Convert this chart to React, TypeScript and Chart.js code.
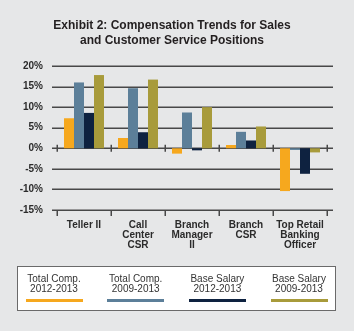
import React, { useEffect, useRef } from "react";
import { Chart, registerables } from "chart.js";

Chart.register(...registerables);

const titleLines = ["Exhibit 2: Compensation Trends for Sales", "and Customer Service Positions"];
const categories = [["Teller II"], ["Call", "Center", "CSR"], ["Branch", "Manager", "II"], ["Branch", "CSR"], ["Top Retail", "Banking", "Officer"]];
const seriesNames = [["Total Comp.", "2012-2013"], ["Total Comp.", "2009-2013"], ["Base Salary", "2012-2013"], ["Base Salary", "2009-2013"]];
const totalComp1213 = [7.3, 2.5, -1.3, 0.8, -10.4];
const totalComp0913 = [16.0, 14.6, 8.7, 4.0, -0.4];
const baseSalary1213 = [8.6, 3.9, -0.5, 1.9, -6.2];
const baseSalary0913 = [17.8, 16.7, 10.0, 5.3, -1.0];
const seriesColors = ["#f6a81e", "#5c7f99", "#0e2240", "#a89b3b"];
const yTicks = [-15, -10, -5, 0, 5, 10, 15, 20];

const FONT = "'Liberation Sans', Arial, sans-serif";
const LINE = "#484848";

const gridPlugin = {
  id: "customGrid",
  beforeDatasetsDraw(chart: any) {
    const { ctx, chartArea, scales } = chart;
    const y = scales.y;
    ctx.save();
    ctx.strokeStyle = LINE;
    ctx.lineWidth = 1.5;
    yTicks.forEach((v) => {
      const py = Math.round(y.getPixelForValue(v)) + 0.25;
      ctx.beginPath();
      ctx.moveTo(chartArea.left - 5, py);
      ctx.lineTo(chartArea.right + 6, py);
      ctx.stroke();
    });
    ctx.restore();
  },
  afterDatasetsDraw(chart: any) {
    const { ctx, scales } = chart;
    const y = scales.y;
    const x = scales.x;
    const n = categories.length;
    const half = (x.getPixelForValue(1) - x.getPixelForValue(0)) / 2;
    const zy = y.getPixelForValue(0);
    const by = y.getPixelForValue(-15);
    ctx.save();
    ctx.strokeStyle = LINE;
    ctx.lineWidth = 1.5;
    for (let i = 0; i <= n; i++) {
      const px = Math.round(x.getPixelForValue(0) - half + i * half * 2) + 0.25;
      ctx.beginPath();
      ctx.moveTo(px, zy - 3.5);
      ctx.lineTo(px, zy + 3.5);
      ctx.moveTo(px, by);
      ctx.lineTo(px, by + 6);
      ctx.stroke();
    }
    ctx.restore();
  },
};

function ChartView() {
  const ref = useRef<HTMLCanvasElement>(null);
  useEffect(() => {
    if (!ref.current) return;
    const data = [totalComp1213, totalComp0913, baseSalary1213, baseSalary0913];
    const chart = new Chart(ref.current, {
      type: "bar",
      data: {
        labels: categories as any,
        datasets: data.map((d, i) => ({
          label: seriesNames[i].join(" "),
          data: d,
          backgroundColor: seriesColors[i],
          borderWidth: 0,
          barPercentage: 1,
          categoryPercentage: 0.74,
        })),
      },
      options: {
        animation: false,
        responsive: false,
        maintainAspectRatio: false,
        layout: { padding: { left: 0, right: 27, top: 66, bottom: 0 } },
        plugins: {
          legend: { display: false },
          tooltip: { enabled: false },
          title: { display: false },
        },
        scales: {
          x: {
            grid: { display: false, drawTicks: false },
            border: { display: false },
            ticks: {
              color: "#2b2b2b",
              font: { family: FONT, size: 10, weight: "bold", lineHeight: "10px" as any },
              padding: 10,
              maxRotation: 0,
              autoSkip: false,
            },
            afterFit(scale: any) {
              scale.height = 121;
            },
          },
          y: {
            min: -15,
            max: 20,
            afterBuildTicks(scale: any) {
              scale.ticks = yTicks.map((v) => ({ value: v }));
            },
            grid: { display: false, drawTicks: false },
            border: { display: false },
            ticks: {
              color: "#2b2b2b",
              font: { family: FONT, size: 10, weight: "bold" },
              padding: 14,
              callback: (v: any) => v + "%",
            },
            afterFit(scale: any) {
              scale.width = 57;
            },
          },
        },
      },
      plugins: [gridPlugin],
    });
    return () => chart.destroy();
  }, []);
  return <canvas ref={ref} width={354} height={331} style={{ position: "absolute", left: 0, top: 0, width: 354, height: 331 }} />;
}

const legendCenters = [54, 135.7, 217.4, 299];

export default function App() {
  return (
    <div style={{ position: "fixed", left: 0, top: 0, width: 354, height: 331, background: "#e6e7e8", overflow: "hidden" }}>
      <ChartView />
      <div
        style={{
          position: "absolute",
          left: 72,
          top: 18,
          width: 200,
          textAlign: "center",
          fontFamily: FONT,
          fontSize: 12,
          fontWeight: "bold",
          lineHeight: "14.5px",
          color: "#231f20",
          whiteSpace: "nowrap",
          display: "flex",
          flexDirection: "column",
          alignItems: "center",
        }}
      >
        {titleLines.map((t, i) => (
          <div key={i}>{t}</div>
        ))}
      </div>
      <div
        style={{
          position: "absolute",
          left: 17,
          top: 266,
          width: 317,
          height: 43,
          background: "#ffffff",
          border: "1.5px solid #6a6a6a",
        }}
      />
      {seriesNames.map((name, i) => (
        <div
          key={i}
          style={{
            position: "absolute",
            left: legendCenters[i] - 40,
            top: 274,
            width: 80,
            textAlign: "center",
            fontFamily: FONT,
            fontSize: 10,
            lineHeight: "10px",
            color: "#333333",
          }}
        >
          <div>{name[0]}</div>
          <div>{name[1]}</div>
          <div style={{ width: 57, height: 3, background: seriesColors[i], margin: "5px auto 0" }} />
        </div>
      ))}
    </div>
  );
}
